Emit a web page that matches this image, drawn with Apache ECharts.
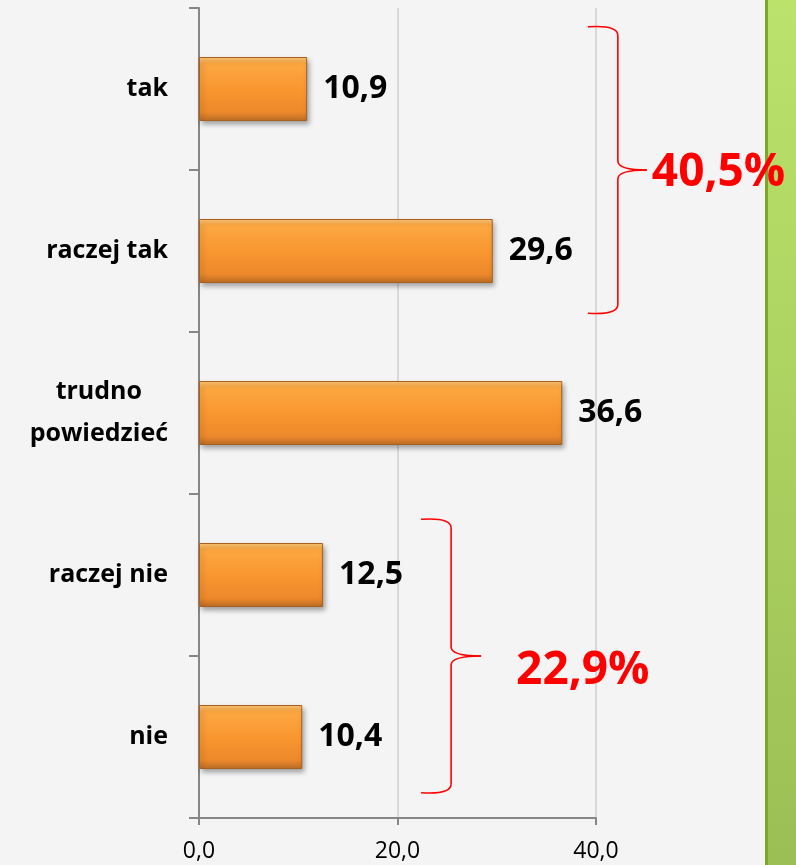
<!DOCTYPE html>
<html>
<head>
<meta charset="utf-8">
<script src="https://cdn.jsdelivr.net/npm/echarts@6/dist/echarts.min.js"></script>
<style>
  html, body { margin: 0; padding: 0; background: #f4f4f4; }
  #chart { width: 796px; height: 865px; }
</style>
</head>
<body>
<div id="chart"></div>
<script>
// data
const categories = ['tak', 'raczej tak', 'trudno\npowiedzieć', 'raczej nie', 'nie'];
const values = [10.9, 29.6, 36.6, 12.5, 10.4];
const axisMin = 0;
const axisMax = 40;
const axisStep = 20;
// which categories are summed under a bracket
const groups = [
  { from: 0, to: 1 },
  { from: 3, to: 4 },
];

// bracket layout (value units for spine, pixels for the rest)
const bracketLayout = [
  { spine: 42.2, arm: 30, tip: 29, pad: 0.39, labelDx: 5, labelDy: 3 },
  { spine: 25.4, arm: 30, tip: 30, pad: 0.35, labelDx: 35, labelDy: 15 },
];

const FONT = 'Open Sans';
const fmt = (v) => Number(v).toFixed(1).replace('.', ',');

const chart = echarts.init(document.getElementById('chart'));

const barColor = new echarts.graphic.LinearGradient(0, 0, 0, 1, [
  { offset: 0, color: '#fdc979' },
  { offset: 0.1, color: '#fda842' },
  { offset: 0.5, color: '#f9972f' },
  { offset: 0.86, color: '#ed892b' },
  { offset: 1, color: '#bb6c25' },
]);

const option = {
  backgroundColor: '#f4f4f4',
  animation: false,
  grid: {
    left: 199,
    right: 200,
    top: 8,
    bottom: 47,
    containLabel: false,
    outerBoundsMode: 'none',
  },
  xAxis: {
    type: 'value',
    min: axisMin,
    max: axisMax,
    interval: axisStep,
    axisLine: { show: true, lineStyle: { color: '#868686', width: 2 } },
    axisTick: { show: true, length: 7, lineStyle: { color: '#868686', width: 2 } },
    splitLine: { show: true, lineStyle: { color: '#d9d9d9', width: 2 } },
    axisLabel: {
      margin: 22,
      color: '#000',
      fontFamily: FONT,
      fontSize: 23,
      formatter: fmt,
    },
  },
  yAxis: {
    type: 'category',
    inverse: true,
    data: categories,
    axisLine: { show: true, lineStyle: { color: '#868686', width: 2 } },
    axisTick: { show: true, length: 10, lineStyle: { color: '#868686', width: 2 } },
    axisLabel: {
      margin: 31,
      color: '#000',
      fontFamily: FONT,
      fontSize: 25,
      fontWeight: 'bold',
      lineHeight: 42,
      formatter: (v) => (v.indexOf('\n') >= 0
        ? v.split('\n').map((s) => `{c|${s}}`).join('\n')
        : v),
      rich: {
        c: {
          align: 'center',
          color: '#000',
          fontFamily: FONT,
          fontSize: 25,
          fontWeight: 'bold',
          lineHeight: 42,
        },
      },
    },
  },
  series: [
    {
      type: 'bar',
      data: values,
      barWidth: 64,
      itemStyle: {
        color: barColor,
        borderColor: '#a9601f',
        borderWidth: 1,
        shadowColor: 'rgba(0,0,0,0.35)',
        shadowBlur: 5,
        shadowOffsetX: 2,
        shadowOffsetY: 3,
      },
      label: {
        show: true,
        position: 'right',
        distance: 16,
        color: '#000',
        fontFamily: FONT,
        fontSize: 32,
        fontWeight: 'bold',
        formatter: (p) => fmt(p.value),
      },
    },
  ],
};

chart.setOption(option);

// brackets + group totals, placed through the axes
const bracketGraphics = [];
const c0 = chart.convertToPixel({ yAxisIndex: 0 }, categories[0]);
const c1 = chart.convertToPixel({ yAxisIndex: 0 }, categories[1]);
const band = Math.abs(c1 - c0);
const red = { stroke: '#ff0000', lineWidth: 1.6, fill: null };

groups.forEach((g, i) => {
  const lay = bracketLayout[i];
  const top = chart.convertToPixel({ yAxisIndex: 0 }, categories[g.from]) - band * lay.pad;
  const bottom = chart.convertToPixel({ yAxisIndex: 0 }, categories[g.to]) + band * lay.pad;
  const mid = (top + bottom) / 2;
  const s = chart.convertToPixel({ xAxisIndex: 0 }, lay.spine);
  const e = s - lay.arm;
  const p = s + lay.tip;
  const r = 9;

  // top curl, upper spine, tip, lower spine, bottom curl
  const parts = [
    { type: 'bezierCurve', shape: { x1: e, y1: top + 1, x2: s, y2: top + r, cpx1: s - 1, cpy1: top - 1 } },
    { type: 'line', shape: { x1: s, y1: top + r, x2: s, y2: mid - r } },
    { type: 'bezierCurve', shape: { x1: s, y1: mid - r, x2: p, y2: mid, cpx1: s, cpy1: mid } },
    { type: 'bezierCurve', shape: { x1: p, y1: mid, x2: s, y2: mid + r, cpx1: s, cpy1: mid } },
    { type: 'line', shape: { x1: s, y1: mid + r, x2: s, y2: bottom - r } },
    { type: 'bezierCurve', shape: { x1: s, y1: bottom - r, x2: e, y2: bottom - 1, cpx1: s - 1, cpy1: bottom + 1 } },
  ];
  parts.forEach((pt) => {
    bracketGraphics.push({ ...pt, z: 100, silent: true, style: red });
  });

  let sum = 0;
  for (let k = g.from; k <= g.to; k++) sum += values[k];

  bracketGraphics.push({
    type: 'text',
    z: 100,
    silent: true,
    x: p + lay.labelDx,
    y: mid + lay.labelDy,
    style: {
      text: `${fmt(sum)}%`,
      fill: '#ff0000',
      font: `bold 46px "${FONT}"`,
      textVerticalAlign: 'middle',
    },
  });
});

chart.setOption({
  graphic: [
    {
      type: 'rect',
      z: 50,
      silent: true,
      shape: { x: 765, y: 0, width: 31, height: 865 },
      style: {
        fill: new echarts.graphic.LinearGradient(0, 0, 0, 1, [
          { offset: 0, color: '#bbe26b' },
          { offset: 1, color: '#9cbf55' },
        ]),
      },
    },
    {
      type: 'rect',
      z: 51,
      silent: true,
      shape: { x: 765, y: 0, width: 3, height: 865 },
      style: { fill: '#7aa823' },
    },
    ...bracketGraphics,
  ],
});

window.addEventListener('resize', () => {
  chart.resize();
});
</script>
</body>
</html>
